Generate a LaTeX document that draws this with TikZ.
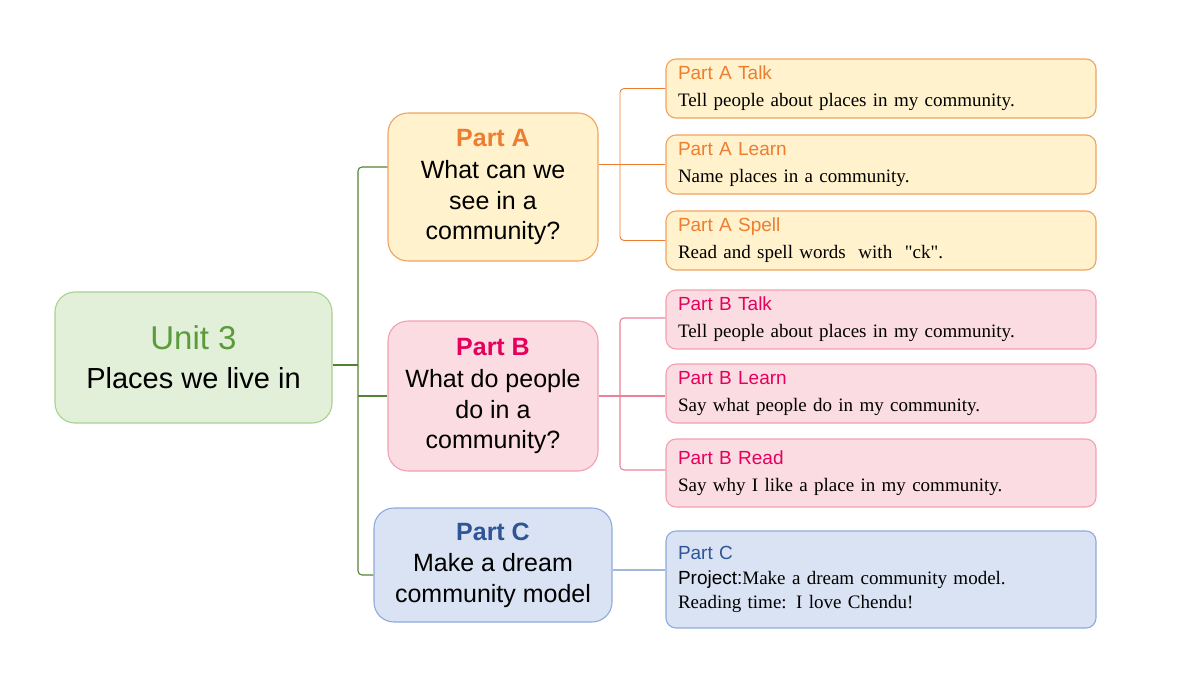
\documentclass[tikz,border=0pt]{standalone}
\usepackage{fontspec}
\setmainfont{Liberation Serif}
\newfontfamily\arial{Liberation Sans}
\newfontfamily\qfont{Liberation Serif}
\definecolor{gfill}{HTML}{E2F0D9}
\definecolor{gdraw}{HTML}{A9D18E}
\definecolor{gtext}{HTML}{5B9B3B}
\definecolor{gline}{HTML}{548235}
\definecolor{ofill}{HTML}{FFF2CC}
\definecolor{odraw}{HTML}{F0A35E}
\definecolor{otext}{HTML}{ED7D31}
\definecolor{pfill}{HTML}{FBDCE2}
\definecolor{pdraw}{HTML}{F4A0B0}
\definecolor{pline}{HTML}{EA8299}
\definecolor{ptext}{HTML}{E6005C}
\definecolor{bfill}{HTML}{DAE3F3}
\definecolor{bdraw}{HTML}{8FAADC}
\definecolor{btext}{HTML}{2F5597}
\definecolor{bline}{HTML}{A0B8DC}
\tikzset{
  hub/.style={draw, rounded corners=20pt, line width=1.1pt, align=center, inner sep=0pt,
     font=\arial\fontsize{25}{30.5}\selectfont},
  leaf/.style={draw, rounded corners=10pt, line width=1.1pt, text width=406pt, inner xsep=12pt,
     inner ysep=0pt, align=left, font=\fontsize{19}{27}\selectfont},
  conn/.style={line width=1.1pt},
}
\newcommand{\ttl}[2]{{\arial\color{#1}#2}}
\begin{document}
\begin{tikzpicture}[x=1pt,y=-1pt]
\useasboundingbox (0,0) rectangle (1200,675);
% main nodes
\node[draw=gdraw, fill=gfill, rounded corners=20pt, line width=1.1pt, align=center, inner sep=0pt,
      minimum width=277pt, minimum height=131pt, font=\arial\fontsize{29}{39}\selectfont] (u) at (193.5,357.5)
  {{\fontsize{33}{39}\selectfont\color{gtext}Unit 3}\\Places we live in};
\node[hub, draw=odraw, fill=ofill, minimum width=210pt, minimum height=148pt] (pa) at (493,187)
  {{\bfseries\color{otext}Part A}\\[2pt]What can we\\see in a\\community?};
\node[hub, draw=pdraw, fill=pfill, minimum width=210pt, minimum height=150pt] (pb) at (493,396)
  {{\bfseries\color{ptext}Part B}\\[2pt]What do people\\do in a\\community?};
\node[hub, draw=bdraw, fill=bfill, minimum width=238pt, minimum height=114pt] (pc) at (493,565)
  {{\bfseries\color{btext}Part C}\\[1pt]Make a dream\\community model};
% leaves
\node[leaf, draw=odraw, fill=ofill, minimum height=59pt] (at) at (881,88.5)
  {\ttl{otext}{Part A Talk}\\Tell people about places in my community.};
\node[leaf, draw=odraw, fill=ofill, minimum height=59pt] (al) at (881,164.5)
  {\ttl{otext}{Part A Learn}\\Name places in a community.};
\node[leaf, draw=odraw, fill=ofill, minimum height=59pt] (as) at (881,240.5)
  {\ttl{otext}{Part A Spell}\\Read and spell words\ \ with\ \ {\qfont"ck"}.};
\node[leaf, draw=pdraw, fill=pfill, minimum height=59pt] (bt) at (881,319.5)
  {\ttl{ptext}{Part B Talk}\\Tell people about places in my community.};
\node[leaf, draw=pdraw, fill=pfill, minimum height=59pt] (bl) at (881,393.5)
  {\ttl{ptext}{Part B Learn}\\Say what people do in my community.};
\node[leaf, draw=pdraw, fill=pfill, minimum height=68pt] (br) at (881,473)
  {\ttl{ptext}{Part B Read}\\Say why I like a place in my community.};
\node[leaf, draw=bdraw, fill=bfill, minimum height=97pt, font=\fontsize{19}{24.5}\selectfont] (cc) at (881,579.5)
  {\ttl{btext}{Part C}\\{\arial Project:}Make a dream community model.\\Reading time: I love Chendu!};
% trunk
\coordinate (j) at (358,365);
\draw[conn, gline] ([yshift=-7.5pt]u.east) -- (j);
\draw[conn, gline, rounded corners=4pt] ([yshift=20pt]pa.west) -| (j) |- ([yshift=-10pt]pc.west);
\draw[conn, gline] (j |- pb.west) -- (pb.west);
% part A bracket
\coordinate (ja) at (620,164.5);
\draw[conn, otext, line width=0.9pt, rounded corners=4pt] (at.west) -| (ja) |- (as.west);
\draw[conn, otext, line width=0.9pt] (pa.east |- al.west) -- (al.west);
% part B bracket
\coordinate (jb) at (620,396);
\draw[conn, pline, line width=1.1pt, rounded corners=4pt] ([yshift=1.5pt]bt.west) -| (jb) |- ([yshift=3pt]br.west);
\draw[conn, pline, line width=1.1pt] (pb.east) -- (pb.east -| bl.west);
% part C
\draw[conn, bline, line width=1.1pt] ([yshift=-5pt]pc.east) -- ([yshift=-5pt]pc.east -| cc.west);
\end{tikzpicture}
\end{document}
